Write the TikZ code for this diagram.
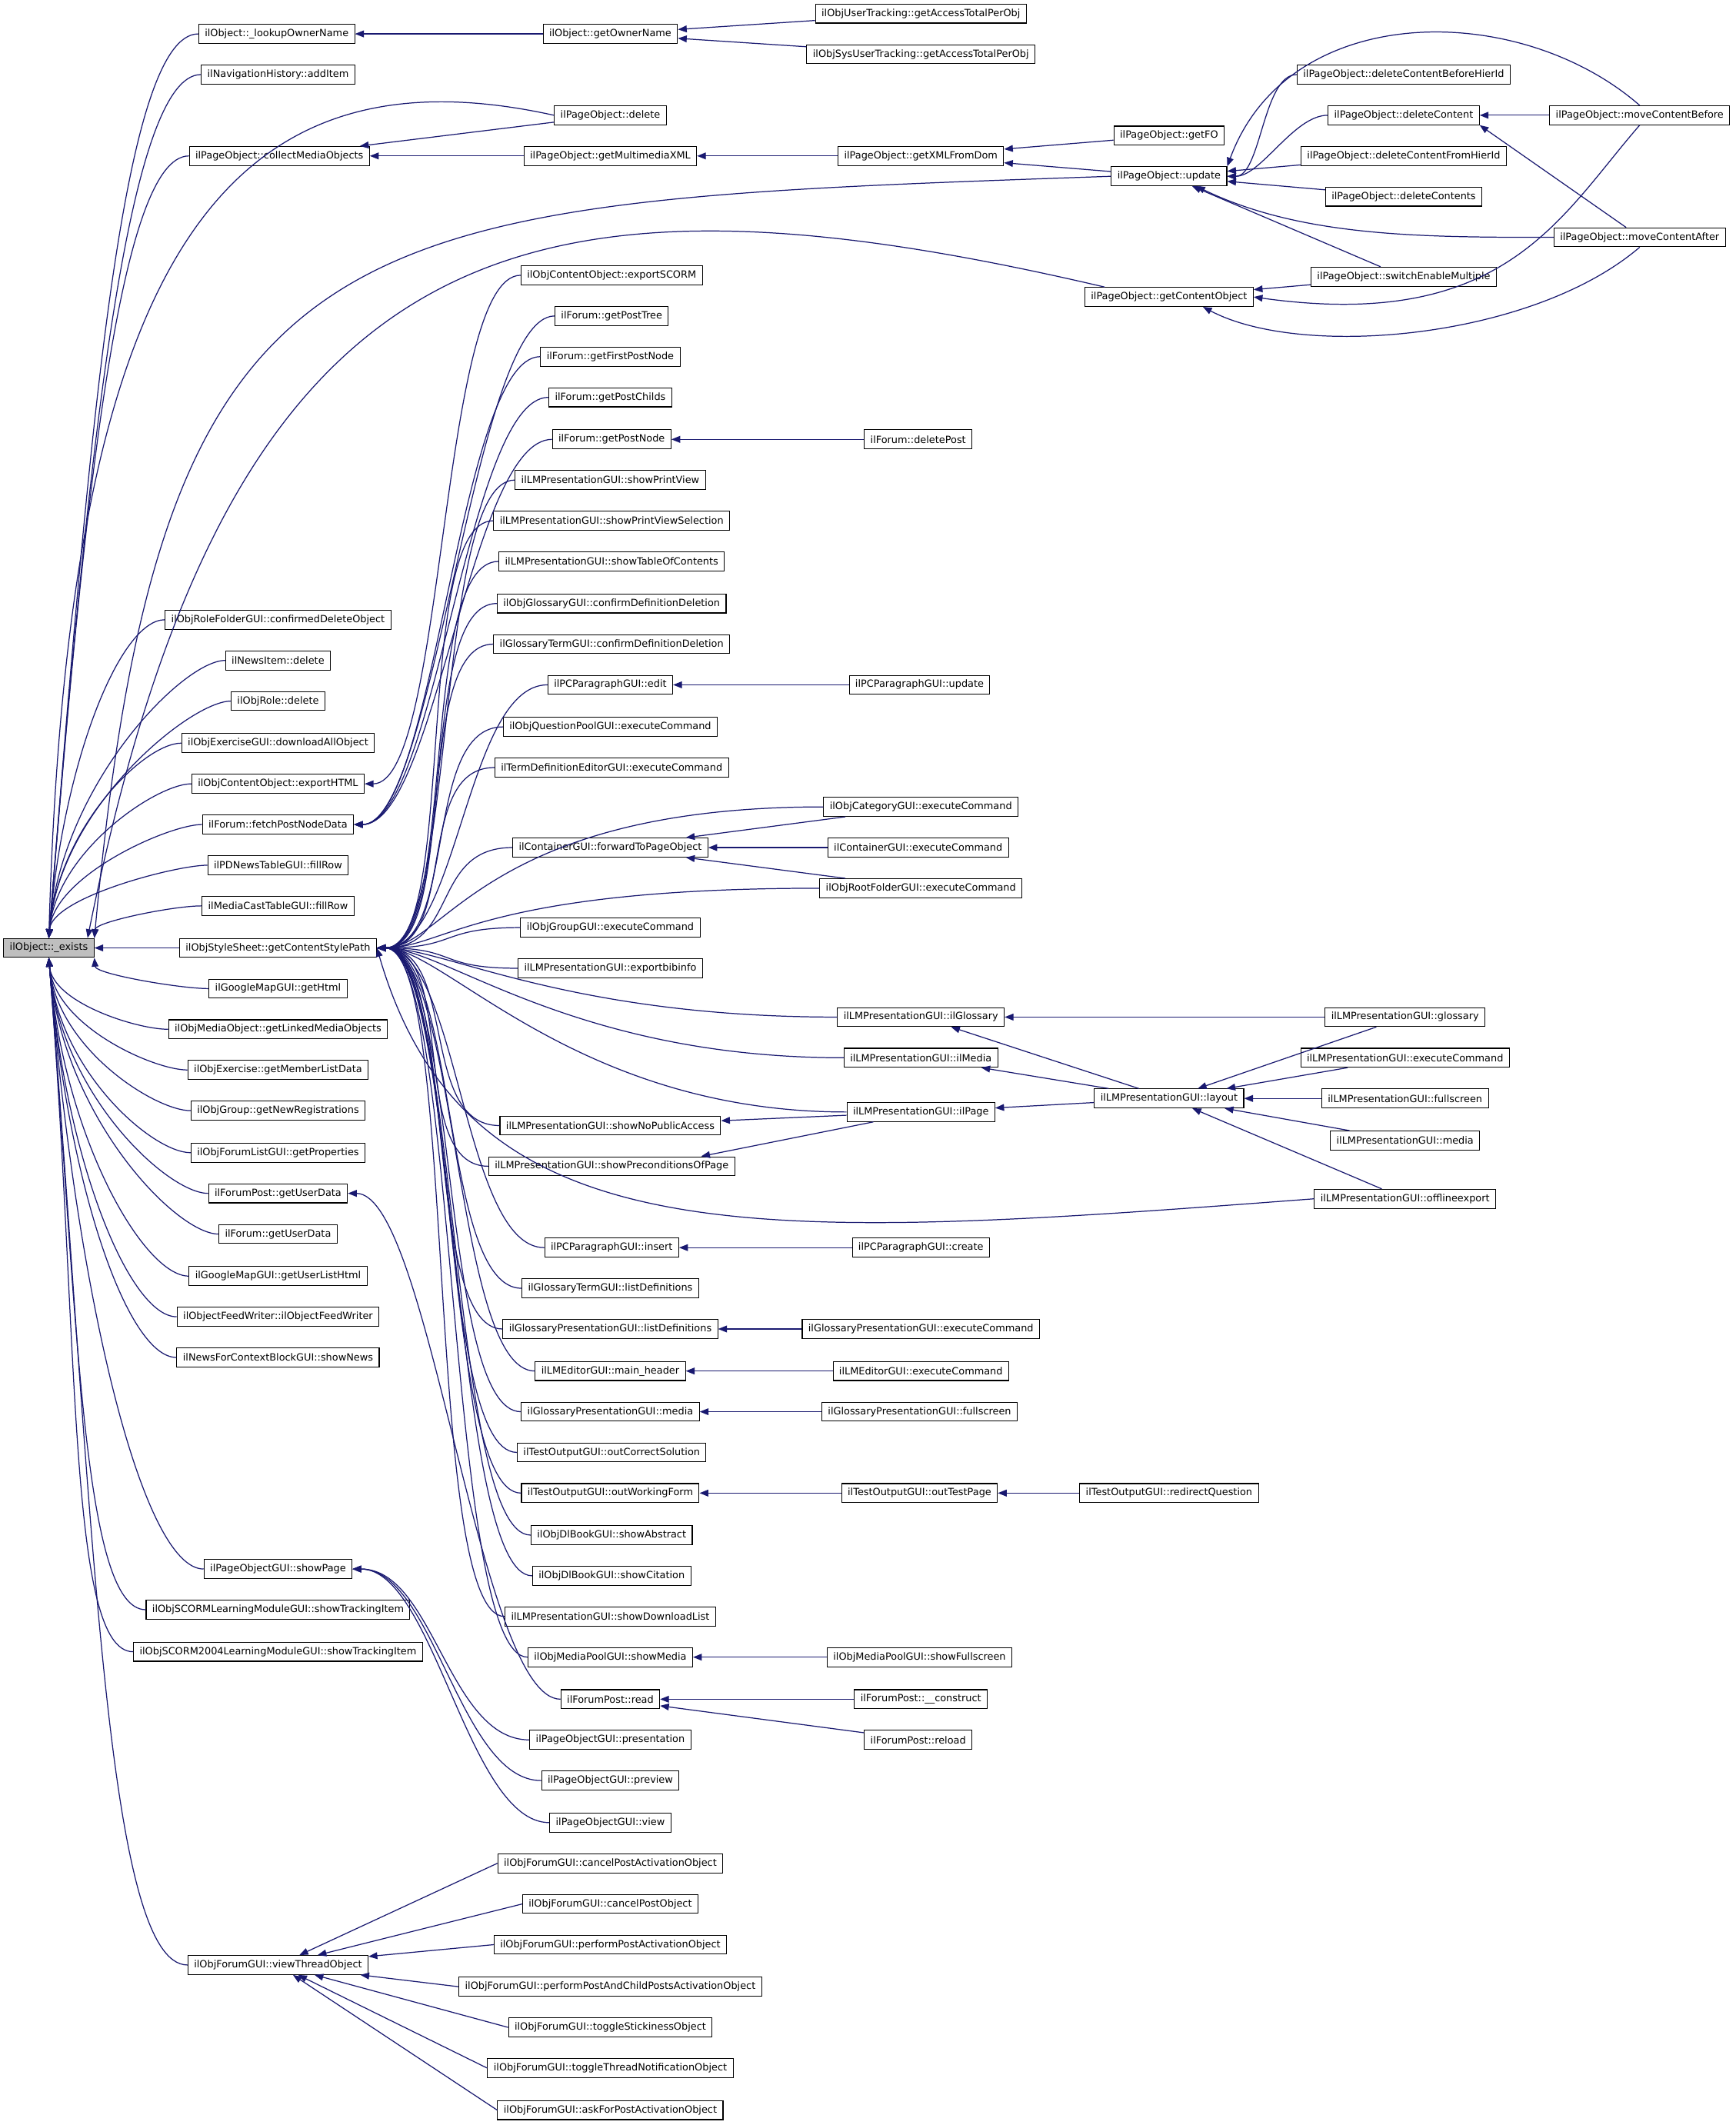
\documentclass[tikz,border=0pt]{standalone}
\usepackage{fontspec}
\setmainfont{DejaVu Sans}
\usetikzlibrary{arrows.meta}
\definecolor{edgeblue}{HTML}{191970}
\definecolor{rootgray}{HTML}{BFBFBF}
\newcommand\fnsize{\fontsize{7.3bp}{8.7bp}\selectfont}

\begin{document}
\begin{tikzpicture}[x=1bp,y=-1bp,>={Triangle[length=6.5bp,width=5bp]},
    fn/.style={draw,rectangle,font=\fnsize,inner xsep=4.5bp,inner ysep=0pt,
               minimum height=14bp,line width=0.6bp},
    root/.style={fn,fill=rootgray},
    link/.style={draw=edgeblue,line width=0.7bp,<-},
    every edge/.style={link},
    spline/.style={to path={.. controls +(#1,0) and +(-#1,0) .. (\tikztotarget) \tikztonodes}},
    spline/.default=60,
    longspline/.style={to path={.. controls +(50,0) and +(-#1,0) .. (\tikztotarget) \tikztonodes}},
    riseup/.style={to path={.. controls +({0.08*#1},{-#1}) and +({-0.1*#1-20},0) .. (\tikztotarget) \tikztonodes}},
    dropdown/.style={to path={.. controls +({0.08*#1},{#1}) and +({-0.1*#1-20},0) .. (\tikztotarget) \tikztonodes}}]

  \path[fill=white,use as bounding box] (0,0) rectangle (1280,1567);

  % root
  \node[root] (ex) at (36,699) {ilObject::\_exists};

  % direct callers
  \node[fn] (lon) at (204,25)   {ilObject::\_lookupOwnerName};
  \node[fn] (nav) at (205,55)   {ilNavigationHistory::addItem};
  \node[fn] (cmo) at (206,115)  {ilPageObject::collectMediaObjects};
  \node[fn] (rfg) at (205,457)  {ilObjRoleFolderGUI::confirmedDeleteObject};
  \node[fn] (nid) at (205,487)  {ilNewsItem::delete};
  \node[fn] (ord) at (205,517)  {ilObjRole::delete};
  \node[fn] (exd) at (205,548)  {ilObjExerciseGUI::downloadAllObject};
  \node[fn] (eht) at (205,578)  {ilObjContentObject::exportHTML};
  \node[fn] (fpn) at (205,608)  {ilForum::fetchPostNodeData};
  \node[fn] (pdn) at (205,638)  {ilPDNewsTableGUI::fillRow};
  \node[fn] (mct) at (205,668)  {ilMediaCastTableGUI::fillRow};
  \node[fn] (csp) at (205,699)  {ilObjStyleSheet::getContentStylePath};
  \node[fn] (gmh) at (205,729)  {ilGoogleMapGUI::getHtml};
  \node[fn] (lmo) at (205,759)  {ilObjMediaObject::getLinkedMediaObjects};
  \node[fn] (eml) at (205,789)  {ilObjExercise::getMemberListData};
  \node[fn] (gnr) at (205,819)  {ilObjGroup::getNewRegistrations};
  \node[fn] (flp) at (205,850)  {ilObjForumListGUI::getProperties};
  \node[fn] (fpu) at (205,880)  {ilForumPost::getUserData};
  \node[fn] (fud) at (205,910)  {ilForum::getUserData};
  \node[fn] (gul) at (205,941)  {ilGoogleMapGUI::getUserListHtml};
  \node[fn] (ofw) at (205,971)  {ilObjectFeedWriter::ilObjectFeedWriter};
  \node[fn] (nsn) at (205,1001) {ilNewsForContextBlockGUI::showNews};
  \node[fn] (psp) at (205,1157) {ilPageObjectGUI::showPage};
  \node[fn] (sti) at (205,1187) {ilObjSCORMLearningModuleGUI::showTrackingItem};
  \node[fn] (s2t) at (205,1218) {ilObjSCORM2004LearningModuleGUI::showTrackingItem};
  \node[fn] (vto) at (205,1449) {ilObjForumGUI::viewThreadObject};

  % second level
  \node[fn] (gon) at (450,25)   {ilObject::getOwnerName};
  \node[fn] (pod) at (450,85)   {ilPageObject::delete};
  \node[fn] (gmx) at (450,115)  {ilPageObject::getMultimediaXML};
  \node[fn] (esc) at (451,203)  {ilObjContentObject::exportSCORM};
  \node[fn] (gpt) at (451,233)  {ilForum::getPostTree};
  \node[fn] (gfp) at (450,263)  {ilForum::getFirstPostNode};
  \node[fn] (gpc) at (450,293)  {ilForum::getPostChilds};
  \node[fn] (gpn) at (451,324)  {ilForum::getPostNode};
  \node[fn] (spv) at (450,354)  {ilLMPresentationGUI::showPrintView};
  \node[fn] (sps) at (451,384)  {ilLMPresentationGUI::showPrintViewSelection};
  \node[fn] (stc) at (451,414)  {ilLMPresentationGUI::showTableOfContents};
  \node[fn] (ogc) at (451,445)  {ilObjGlossaryGUI::confirmDefinitionDeletion};
  \node[fn] (gtc) at (451,475)  {ilGlossaryTermGUI::confirmDefinitionDeletion};
  \node[fn] (pce) at (450,505)  {ilPCParagraphGUI::edit};
  \node[fn] (qpe) at (450,536)  {ilObjQuestionPoolGUI::executeCommand};
  \node[fn] (tde) at (451,566)  {ilTermDefinitionEditorGUI::executeCommand};
  \node[fn] (ftp) at (450,625)  {ilContainerGUI::forwardToPageObject};
  \node[fn] (oge) at (450,684)  {ilObjGroupGUI::executeCommand};
  \node[fn] (ebi) at (450,714)  {ilLMPresentationGUI::exportbibinfo};
  \node[fn] (snp) at (450,830)  {ilLMPresentationGUI::showNoPublicAccess};
  \node[fn] (spo) at (451,860)  {ilLMPresentationGUI::showPreconditionsOfPage};
  \node[fn] (pci) at (451,920)  {ilPCParagraphGUI::insert};
  \node[fn] (gtl) at (450,950)  {ilGlossaryTermGUI::listDefinitions};
  \node[fn] (gpl) at (450,980)  {ilGlossaryPresentationGUI::listDefinitions};
  \node[fn] (mhd) at (450,1011) {ilLMEditorGUI::main\_header};
  \node[fn] (gpm) at (450,1041) {ilGlossaryPresentationGUI::media};
  \node[fn] (ocs) at (451,1071) {ilTestOutputGUI::outCorrectSolution};
  \node[fn] (owf) at (450,1101) {ilTestOutputGUI::outWorkingForm};
  \node[fn] (dba) at (451,1132) {ilObjDlBookGUI::showAbstract};
  \node[fn] (dbc) at (451,1162) {ilObjDlBookGUI::showCitation};
  \node[fn] (sdl) at (450,1192) {ilLMPresentationGUI::showDownloadList};
  \node[fn] (smd) at (450,1222) {ilObjMediaPoolGUI::showMedia};
  \node[fn] (fpr) at (450,1253) {ilForumPost::read};
  \node[fn] (pgp) at (450,1283) {ilPageObjectGUI::presentation};
  \node[fn] (pgv) at (450,1313) {ilPageObjectGUI::preview};
  \node[fn] (pgw) at (450,1344) {ilPageObjectGUI::view};
  \node[fn] (fca) at (450,1374) {ilObjForumGUI::cancelPostActivationObject};
  \node[fn] (fcp) at (450,1404) {ilObjForumGUI::cancelPostObject};
  \node[fn] (fpa) at (450,1434) {ilObjForumGUI::performPostActivationObject};
  \node[fn] (fpc) at (450,1465) {ilObjForumGUI::performPostAndChildPostsActivationObject};
  \node[fn] (fts) at (450,1495) {ilObjForumGUI::toggleStickinessObject};
  \node[fn] (ftn) at (450,1525) {ilObjForumGUI::toggleThreadNotificationObject};
  \node[fn] (fap) at (450,1556) {ilObjForumGUI::askForPostActivationObject};

  % third level
  \node[fn] (utr) at (679,10)   {ilObjUserTracking::getAccessTotalPerObj};
  \node[fn] (sut) at (679,40)   {ilObjSysUserTracking::getAccessTotalPerObj};
  \node[fn] (xfd) at (679,115)  {ilPageObject::getXMLFromDom};
  \node[fn] (fdp) at (677,324)  {ilForum::deletePost};
  \node[fn] (pcu) at (678,505)  {ilPCParagraphGUI::update};
  \node[fn] (oce) at (679,595)  {ilObjCategoryGUI::executeCommand};
  \node[fn] (cge) at (677,625)  {ilContainerGUI::executeCommand};
  \node[fn] (rfe) at (679,655)  {ilObjRootFolderGUI::executeCommand};
  \node[fn] (lgl) at (679,750)  {ilLMPresentationGUI::ilGlossary};
  \node[fn] (lme) at (679,780)  {ilLMPresentationGUI::ilMedia};
  \node[fn] (lpg) at (679,820)  {ilLMPresentationGUI::ilPage};
  \node[fn] (pcc) at (679,920)  {ilPCParagraphGUI::create};
  \node[fn] (gpe) at (679,980)  {ilGlossaryPresentationGUI::executeCommand};
  \node[fn] (lee) at (679,1011) {ilLMEditorGUI::executeCommand};
  \node[fn] (gpf) at (678,1041) {ilGlossaryPresentationGUI::fullscreen};
  \node[fn] (otp) at (678,1101) {ilTestOutputGUI::outTestPage};
  \node[fn] (msf) at (678,1222) {ilObjMediaPoolGUI::showFullscreen};
  \node[fn] (fpk) at (679,1253) {ilForumPost::\_\_construct};
  \node[fn] (fpl) at (677,1283) {ilForumPost::reload};

  % fourth level
  \node[fn] (gfo) at (862,100)  {ilPageObject::getFO};
  \node[fn] (upd) at (862,130)  {ilPageObject::update};
  \node[fn] (gco) at (862,219)  {ilPageObject::getContentObject};
  \node[fn] (lay) at (862,810)  {ilLMPresentationGUI::layout};
  \node[fn] (rdq) at (862,1101) {ilTestOutputGUI::redirectQuestion};

  % fifth and sixth level
  \node[fn] (dcb) at (1035,55)  {ilPageObject::deleteContentBeforeHierId};
  \node[fn] (dct) at (1035,85)  {ilPageObject::deleteContent};
  \node[fn] (dcf) at (1035,115) {ilPageObject::deleteContentFromHierId};
  \node[fn] (dcs) at (1035,145) {ilPageObject::deleteContents};
  \node[fn] (sem) at (1035,204) {ilPageObject::switchEnableMultiple};
  \node[fn] (lgs) at (1036,750) {ilLMPresentationGUI::glossary};
  \node[fn] (lec) at (1036,780) {ilLMPresentationGUI::executeCommand};
  \node[fn] (lfs) at (1036,810) {ilLMPresentationGUI::fullscreen};
  \node[fn] (lmd) at (1036,841) {ilLMPresentationGUI::media};
  \node[fn] (lox) at (1036,884) {ilLMPresentationGUI::offlineexport};
  \node[fn] (mcb) at (1209,85)  {ilPageObject::moveContentBefore};
  \node[fn] (mca) at (1209,175) {ilPageObject::moveContentAfter};

  % calls into ilObject::_exists
  \path (ex) edge (csp)
        (ex.north) edge[riseup=367] (lon.west)
                   edge[riseup=350] (nav.west)
                   edge[riseup=317] (cmo.west)
                   edge[riseup=130] (rfg.west)
                   edge[riseup=113] (nid.west)
                   edge[riseup=96]  (ord.west)
                   edge[riseup=80]  (exd.west)
                   edge[riseup=63]  (eht.west)
                   edge[riseup=46]  (fpn.west)
                   edge[riseup=30]  (pdn.west)
        (ex.north east) edge[riseup=12] (mct.west)
        (ex.south east) edge[dropdown=12] (gmh.west)
        (ex.south) edge[dropdown=33]  (lmo.west)
                   edge[dropdown=50]  (eml.west)
                   edge[dropdown=66]  (gnr.west)
                   edge[dropdown=83]  (flp.west)
                   edge[dropdown=100] (fpu.west)
                   edge[dropdown=116] (fud.west)
                   edge[dropdown=132] (gul.west)
                   edge[dropdown=149] (ofw.west)
                   edge[dropdown=165] (nsn.west)
                   edge[dropdown=250] (psp.west)
                   edge[dropdown=267] (sti.west)
                   edge[dropdown=283] (s2t.west)
                   edge[dropdown=410] (vto.west);
  \draw[link] (ex.north) .. controls (50,200) and (160,30) .. (pod.west);
  \draw[link] (ex.north east) .. controls (120,150) and (250,150) .. (upd.west);
  \draw[link] ([xshift=-5bp]ex.north east) .. controls (170,170) and (380,110) .. ([xshift=15bp]gco.north west);

  % owner name and media objects
  \path (lon) edge (gon)
        (gon) edge (utr)
              edge (sut)
        (cmo) edge (pod)
              edge (gmx)
        (gmx) edge (xfd)
        (xfd) edge (gfo)
              edge (upd);

  % page object update
  \path (upd.east) edge[spline=25] (dcb.west)
                   edge[spline=25] (dct.west)
        (upd) edge (dcf)
              edge (dcs)
              edge (sem)
        (dct) edge (mcb)
        (dct.south east) edge ([xshift=-10bp]mca.north)
        (gco) edge (sem);
  \draw[link] (upd.north east) .. controls (950,0) and (1120,0) .. (mcb.north);
  \draw[link] ([xshift=20bp]upd.south) .. controls (960,175) and (1050,175) .. (mca.west);
  \draw[link] (gco.east) .. controls (1110,245) and (1150,160) .. (mcb.south);
  \draw[link] ([xshift=25bp]gco.south) .. controls (960,265) and (1130,250) .. (mca.south);

  % forum posts, export
  \path (fpn.east) edge[spline] (gpt.west)
                   edge[spline] (gfp.west)
                   edge[spline] (gpc.west)
                   edge[spline] (gpn.west)
        (eht.east) edge[spline] (esc.west)
        (gpn) edge (fdp);

  % content style path
  \path (csp.east) edge[spline] (spv.west)
                   edge[spline] (sps.west)
                   edge[spline] (stc.west)
                   edge[spline] (ogc.west)
                   edge[spline] (gtc.west)
                   edge[spline] (pce.west)
                   edge[spline] (qpe.west)
                   edge[spline] (tde.west)
                   edge[spline] (ftp.west)
                   edge[spline] (oge.west)
                   edge[spline] (ebi.west)
                   edge[spline] (snp.west)
                   edge[spline] (spo.west)
                   edge[spline] (pci.west)
                   edge[spline] (gtl.west)
                   edge[spline] (gpl.west)
                   edge[spline] (mhd.west)
                   edge[spline] (gpm.west)
                   edge[spline] (ocs.west)
                   edge[spline] (owf.west)
                   edge[spline] (dba.west)
                   edge[spline] (dbc.west)
                   edge[spline] (sdl.west)
                   edge[spline] (smd.west)
                   edge[longspline=250] (oce.west)
                   edge[longspline=250] (rfe.west)
                   edge[longspline=200] (lgl.west)
                   edge[longspline=200] (lme.west)
                   edge[longspline=200] (lpg.west);
  \draw[link] (csp.east) .. controls (345,930) and (560,915) .. (lox.west);

  % presentation and editing
  \path (pce) edge (pcu)
        (ftp) edge (oce)
              edge (cge)
              edge (rfe)
        (lgl) edge (lgs)
              edge (lay)
        (lme) edge (lay)
        (lpg) edge (lay)
        (lay) edge (lgs)
              edge (lec)
              edge (lfs)
              edge (lmd)
              edge (lox)
        (snp) edge (lpg)
        ([xshift=-25bp]spo.north east) edge ([xshift=-35bp]lpg.south)
        (pci) edge (pcc)
        (gpl) edge (gpe)
        (mhd) edge (lee)
        (gpm) edge (gpf)
        (owf) edge (otp)
        (otp) edge (rdq)
        (smd) edge (msf)
        (fpr) edge (fpk)
              edge (fpl);

  % forum post, page GUI, thread view
  \path (fpu.east) edge[spline] (fpr.west)
        (psp.east) edge[spline] (pgp.west)
                   edge[spline] (pgv.west)
                   edge[spline] (pgw.west)
        (vto) edge (fca.west)
              edge (fcp.west)
              edge (fpa.west)
              edge (fpc.west)
              edge (fts.west)
              edge (ftn.west)
              edge (fap.west);
\end{tikzpicture}
\end{document}
